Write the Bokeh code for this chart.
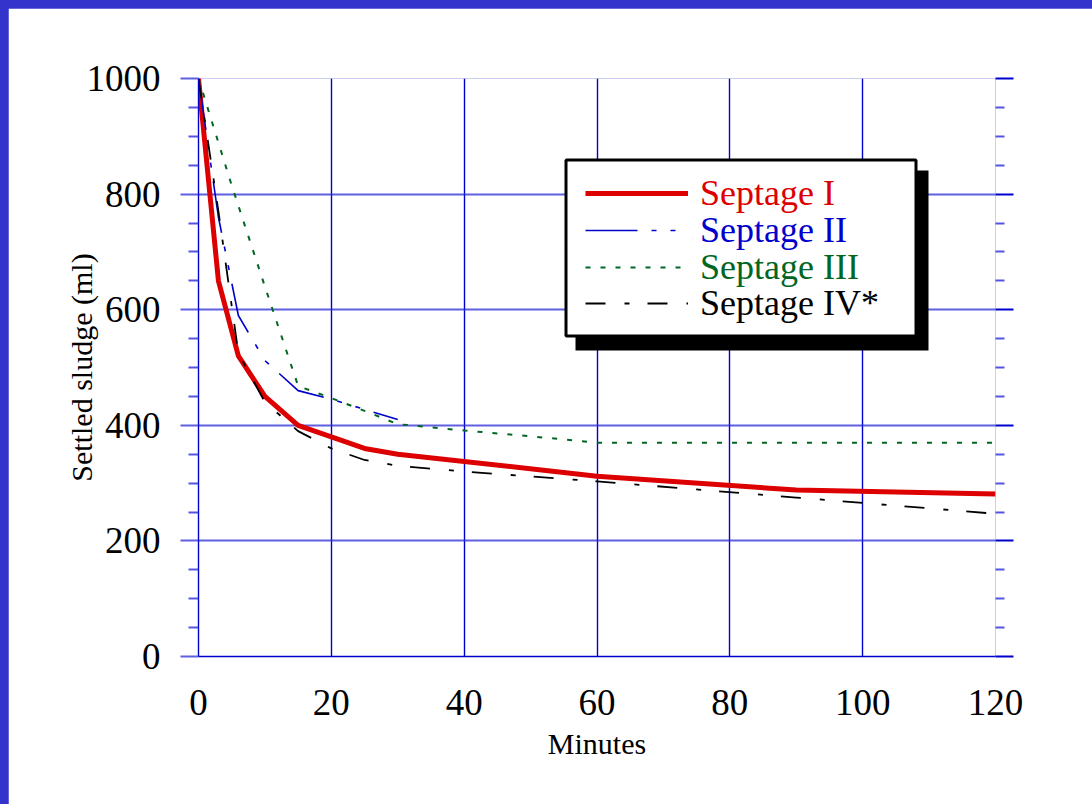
from bokeh.plotting import figure
from bokeh.models import (Range1d, FixedTicker, LinearAxis, BoxAnnotation, Legend,
                          LegendItem, GlobalInlineStyleSheet)
from bokeh.embed import file_html
from bokeh.resources import INLINE

# ---------------- data ----------------
minutes_I = [0, 3, 6, 10, 15, 20, 25, 30, 60, 90, 120]
sludge_I = [1000, 650, 520, 450, 400, 380, 360, 350, 312, 288, 281]

minutes_II = [0, 3, 6, 10, 15, 20, 30]
sludge_II = [1000, 760, 590, 512, 460, 445, 410]

minutes_III = [0, 5, 10, 15, 20, 25, 30, 40, 50, 60, 90, 120]
sludge_III = [1000, 815, 640, 468, 447, 425, 402, 391, 381, 370, 370, 370]

minutes_IV = [0, 3, 6, 10, 15, 20, 25, 30, 40, 60, 90, 120]
sludge_IV = [1000, 770, 525, 440, 390, 360, 340, 330, 320, 303, 275, 247]

series_names = ["Septage I", "Septage II", "Septage III", "Septage IV*"]

x_ticks = [0, 20, 40, 60, 80, 100, 120]
y_ticks = [0, 200, 400, 600, 800, 1000]
y_minor = [50, 100, 150, 250, 300, 350, 450, 500, 550, 650, 700, 750, 850, 900, 950]

# ---------------- styles ----------------
FONT = "Liberation Serif"
RED = "#dd0000"
BLUE = "#0000cc"
GREEN = "#006622"
BLACK = "#000000"
GRID_H = "#2a2ad8"

p = figure(width=1084, height=796, x_range=Range1d(0, 120), y_range=Range1d(0, 1000),
           output_backend="svg", toolbar_location=None,
           min_border_left=190, min_border_right=97, min_border_top=70, min_border_bottom=148)
p.stylesheets = [GlobalInlineStyleSheet(
    css="body { margin: 8px 0 0 8px !important; background: #3434cc; overflow: hidden; }")]
p.outline_line_color = None
p.background_fill_color = "white"
p.border_fill_color = "white"

xt = FixedTicker(ticks=x_ticks, minor_ticks=[])
yt = FixedTicker(ticks=y_ticks, minor_ticks=y_minor)

# grids
p.xgrid.ticker = xt
p.xgrid.grid_line_color = BLUE
p.xgrid.grid_line_width = 1.4
p.ygrid.ticker = yt
p.ygrid.grid_line_color = GRID_H
p.ygrid.grid_line_alpha = 0.75
p.ygrid.grid_line_width = 2

# x axis
xa = p.xaxis[0]
xa.ticker = xt
xa.axis_line_color = BLUE
xa.axis_line_width = 1.4
xa.major_tick_out = 0
xa.major_tick_in = 0
xa.minor_tick_out = 0
xa.minor_tick_in = 0
xa.major_label_standoff = 33
xa.major_label_text_font = FONT
xa.major_label_text_font_size = "37px"
xa.major_label_text_color = "black"
xa.axis_label = "Minutes"
xa.axis_label_text_font = FONT
xa.axis_label_text_font_size = "30px"
xa.axis_label_text_font_style = "normal"
xa.axis_label_text_color = "black"
xa.axis_label_standoff = 9

# y axis (left)
ya = p.yaxis[0]
ya.ticker = yt
ya.axis_line_color = BLUE
ya.axis_line_width = 1.4
ya.major_tick_out = 18
ya.major_tick_in = 0
ya.minor_tick_out = 10
ya.minor_tick_in = 0
ya.major_tick_line_color = GRID_H
ya.major_tick_line_alpha = 0.75
ya.major_tick_line_width = 2
ya.minor_tick_line_color = GRID_H
ya.minor_tick_line_alpha = 0.8
ya.minor_tick_line_width = 2
ya.major_label_standoff = 20
ya.major_label_text_font = FONT
ya.major_label_text_font_size = "37px"
ya.major_label_text_color = "black"
ya.axis_label = "Settled sludge (ml)"
ya.axis_label_text_font = FONT
ya.axis_label_text_font_size = "30px"
ya.axis_label_text_font_style = "normal"
ya.axis_label_text_color = "black"
ya.axis_label_standoff = -14

# y axis (right, ticks only)
ra = LinearAxis(ticker=yt, axis_line_color=None,
                major_tick_out=18, major_tick_in=0, minor_tick_out=9, minor_tick_in=0,
                major_tick_line_color=BLUE, major_tick_line_width=2,
                minor_tick_line_color=GRID_H, minor_tick_line_alpha=0.8, minor_tick_line_width=2,
                major_label_text_font_size="0px", major_label_text_color=None,
                major_label_standoff=0)
p.add_layout(ra, "right")

# ---------------- data lines ----------------
r1 = p.line(minutes_I, sludge_I, line_color=RED, line_width=5, line_join="round")
r2 = p.line(minutes_II, sludge_II, line_color=BLUE, line_width=1.6, line_dash="52 14 5 14 5 14")
r3 = p.line(minutes_III, sludge_III, line_color=GREEN, line_width=2, line_dash="5 10")
r4 = p.line(minutes_IV, sludge_IV, line_color=BLACK, line_width=1.8, line_dash="20 19 5 18")

# ---------------- legend (box with drop shadow + coloured entries) ----------------
def dx(px):  # page pixel -> x position inside the frame
    return (px - 198) / 797 * 120

def dy(py):  # page pixel -> y position inside the frame
    return (656 - py) / 578 * 1000

shadow = BoxAnnotation(left=dx(575), right=dx(928), top=dy(170), bottom=dy(350),
                       fill_color="black", fill_alpha=1, line_color=None)
box = BoxAnnotation(left=dx(565.5), right=dx(915.5), top=dy(159.5), bottom=dy(335.5),
                    fill_color="white", fill_alpha=1, line_color="black", line_width=3,
                    line_alpha=1)
p.add_layout(shadow)
p.add_layout(box)

renderers = [r1, r2, r3, r4]
colors = [RED, BLUE, GREEN, BLACK]
row_centers = [192.7, 230.0, 266.7, 303.3]
H = 42
for name, r, c, yc in zip(series_names, renderers, colors, row_centers):
    lg = Legend(items=[LegendItem(label=name, renderers=[r])],
                location=(585 - 198, 656 - yc - H / 2),
                border_line_color=None, background_fill_alpha=0,
                padding=0, margin=0, spacing=0,
                glyph_width=103, glyph_height=20, label_height=20, label_standoff=12,
                label_text_font=FONT, label_text_font_size="36px", label_text_color=c)
    p.add_layout(lg)

open("out.html", "w").write(file_html(p, INLINE))
